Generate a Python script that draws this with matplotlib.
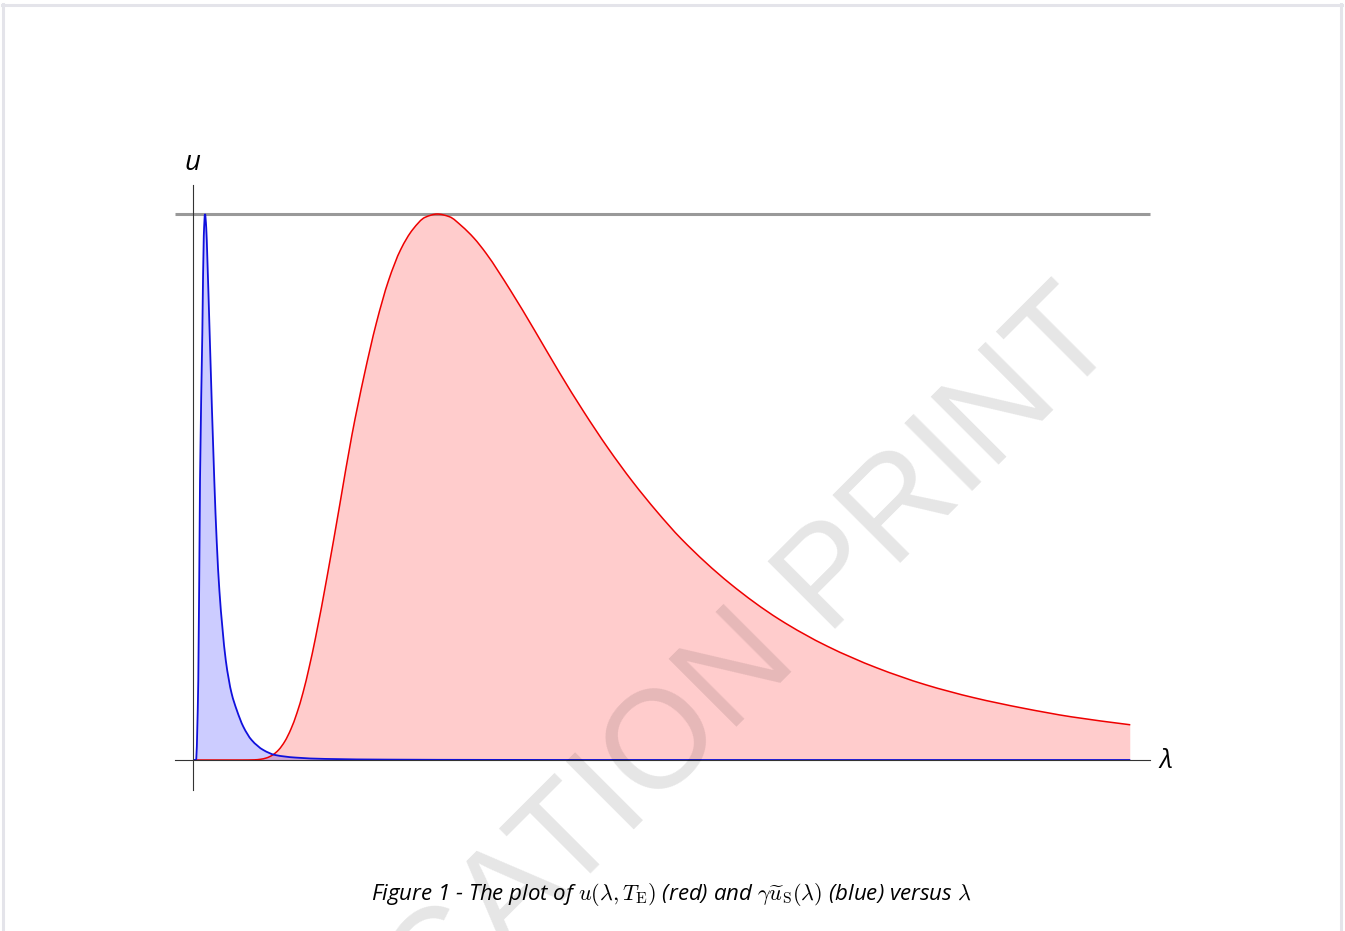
import matplotlib
matplotlib.use("Agg")
import numpy as np
import matplotlib.pyplot as plt
from matplotlib.lines import Line2D
from matplotlib.path import Path
from matplotlib.patches import PathPatch

plt.rcParams['mathtext.fontset'] = 'cm'

# ---- data (wavelength in micrometres, normalised spectral energy density) ----
lam_red = [0, 1.5, 2.0, 2.5, 2.75, 3.0, 3.25, 3.5, 3.75, 4.0,
           4.25, 4.5, 4.75, 5.0, 5.5, 6.0, 6.5, 7.0, 7.5, 8.0,
           8.5, 9.0, 9.5, 10.0, 10.5, 11.0, 11.5, 12.0, 13.0, 14.0,
           15.0, 16.0, 17.0, 18.0, 19.0, 20.0, 22.0, 24.0, 26.0, 28.0,
           30.0, 32.0, 34.0, 36.0, 38.4]
u_red = [0, 0, 0.00001, 0.0003, 0.0013, 0.0038, 0.0091, 0.0187, 0.0341, 0.0565,
         0.0864, 0.124, 0.170, 0.222, 0.340, 0.467, 0.595, 0.704, 0.800, 0.878,
         0.935, 0.972, 0.994, 1.0, 0.995, 0.978, 0.956, 0.928, 0.860, 0.786,
         0.710, 0.638, 0.571, 0.510, 0.455, 0.405, 0.323, 0.258, 0.208, 0.169,
         0.138, 0.114, 0.095, 0.079, 0.0645]

lam_blue = [0, 0.11, 0.205, 0.275, 0.37, 0.43, 0.48, 0.53, 0.575, 0.67,
            0.86, 0.96, 1.07, 1.19, 1.33, 1.57, 1.78, 2.05, 2.39, 2.87,
            3.35, 4.17, 5.4, 8.0, 12.0, 20.0, 38.4]
u_blue = [0, 0, 0.147, 0.513, 0.782, 0.96, 1.0, 0.975, 0.92, 0.782,
          0.513, 0.40, 0.31, 0.244, 0.183, 0.122, 0.0916, 0.061, 0.0366, 0.0183,
          0.0092, 0.0045, 0.002, 0.0007, 0.0002, 0.00003, 0]

peak_level = 1.0
axis_x_range = [-0.75, 39.2]
axis_y_range = [-0.055, 1.053]

caption = (r"Figure 1 - The plot of $u(\lambda,T_{\mathrm{E}})$ (red) and "
           r"$\gamma\widetilde{u}_{\mathrm{S}}(\lambda)$ (blue) versus $\lambda$")
watermark = "PUBLICATION PRINT"


def smooth_path(xs, ys, close_to_zero=False):
    """Monotone cubic (Fritsch-Carlson) Bezier path through the data points."""
    x = np.asarray(xs, float)
    y = np.asarray(ys, float)
    h = np.diff(x)
    d = np.diff(y) / h
    m = np.zeros_like(y)
    m[0], m[-1] = d[0], d[-1]
    for k in range(1, len(y) - 1):
        if d[k - 1] * d[k] <= 0:
            m[k] = 0.0
        else:
            w1 = 2 * h[k] + h[k - 1]
            w2 = h[k] + 2 * h[k - 1]
            m[k] = (w1 + w2) / (w1 / d[k - 1] + w2 / d[k])
    verts = [(x[0], y[0])]
    codes = [Path.MOVETO]
    for k in range(len(x) - 1):
        verts += [(x[k] + h[k] / 3, y[k] + m[k] * h[k] / 3),
                  (x[k + 1] - h[k] / 3, y[k + 1] - m[k + 1] * h[k] / 3),
                  (x[k + 1], y[k + 1])]
        codes += [Path.CURVE4] * 3
    if close_to_zero:
        verts += [(x[-1], 0), (x[0], 0), (x[0], y[0])]
        codes += [Path.LINETO, Path.LINETO, Path.CLOSEPOLY]
    return Path(verts, codes)


# ---- figure ----
W, H = 1345, 931
fig = plt.figure(figsize=(W / 100, H / 100), dpi=100)
ax = fig.add_axes([0, 0, 1, 1])
ax.set_xlim(-7.922, 47.20)
ax.set_ylim(-0.3132, 1.392)
ax.axis('off')

# reference level
ax.plot(axis_x_range, [peak_level, peak_level], color='#999999', lw=2.2,
        solid_capstyle='butt', zorder=1)
# axes lines
ax.plot(axis_x_range, [0, 0], color='#333333', lw=0.8, zorder=5)
ax.plot([0, 0], axis_y_range, color='#333333', lw=0.8, zorder=5)

# red curve
ax.add_patch(PathPatch(smooth_path(lam_red, u_red, True), facecolor='red',
                       alpha=0.2, lw=0, zorder=2))
ax.add_patch(PathPatch(smooth_path(lam_red, u_red), facecolor='none',
                       edgecolor='#ee0000', lw=1.1, zorder=3))
# blue curve
ax.add_patch(PathPatch(smooth_path(lam_blue, u_blue, True), facecolor='blue',
                       alpha=0.2, lw=0, zorder=2))
ax.add_patch(PathPatch(smooth_path(lam_blue, u_blue), facecolor='none',
                       edgecolor='#1010dd', lw=1.3, zorder=4))

# axis labels
fig.text(192 / W, 1 - 163 / H, 'u', fontfamily='Open Sans', style='italic',
         fontsize=20, ha='center', va='center')
fig.text(1166 / W, 1 - 761 / H, r'λ', fontfamily='Open Sans', style='italic',
         fontsize=19, ha='center', va='center')

# caption
fig.text(671.5 / W, 1 - 895 / H, caption, fontfamily='Open Sans', style='italic',
         fontsize=16, ha='center', va='center')

# watermark
fig.text(1122 / W, 1 - 341 / H, watermark, fontfamily='Liberation Sans',
         fontsize=100, color='black', alpha=0.1, rotation=45,
         rotation_mode='anchor', ha='right', va='baseline', zorder=10)

# page border
bc = '#e4e4ea'
fig.add_artist(Line2D([3.5 / W, 3.5 / W], [0, 1 - 3.5 / H], color=bc, lw=2.2,
                      transform=fig.transFigure))
fig.add_artist(Line2D([2 / W, 1342 / W], [1 - 4.5 / H, 1 - 4.5 / H], color=bc, lw=2.2,
                      transform=fig.transFigure))
fig.add_artist(Line2D([1340.5 / W, 1340.5 / W], [0, 1 - 3.5 / H], color=bc, lw=2.2,
                      transform=fig.transFigure))

fig.savefig('out.png', dpi=100, facecolor='white')
